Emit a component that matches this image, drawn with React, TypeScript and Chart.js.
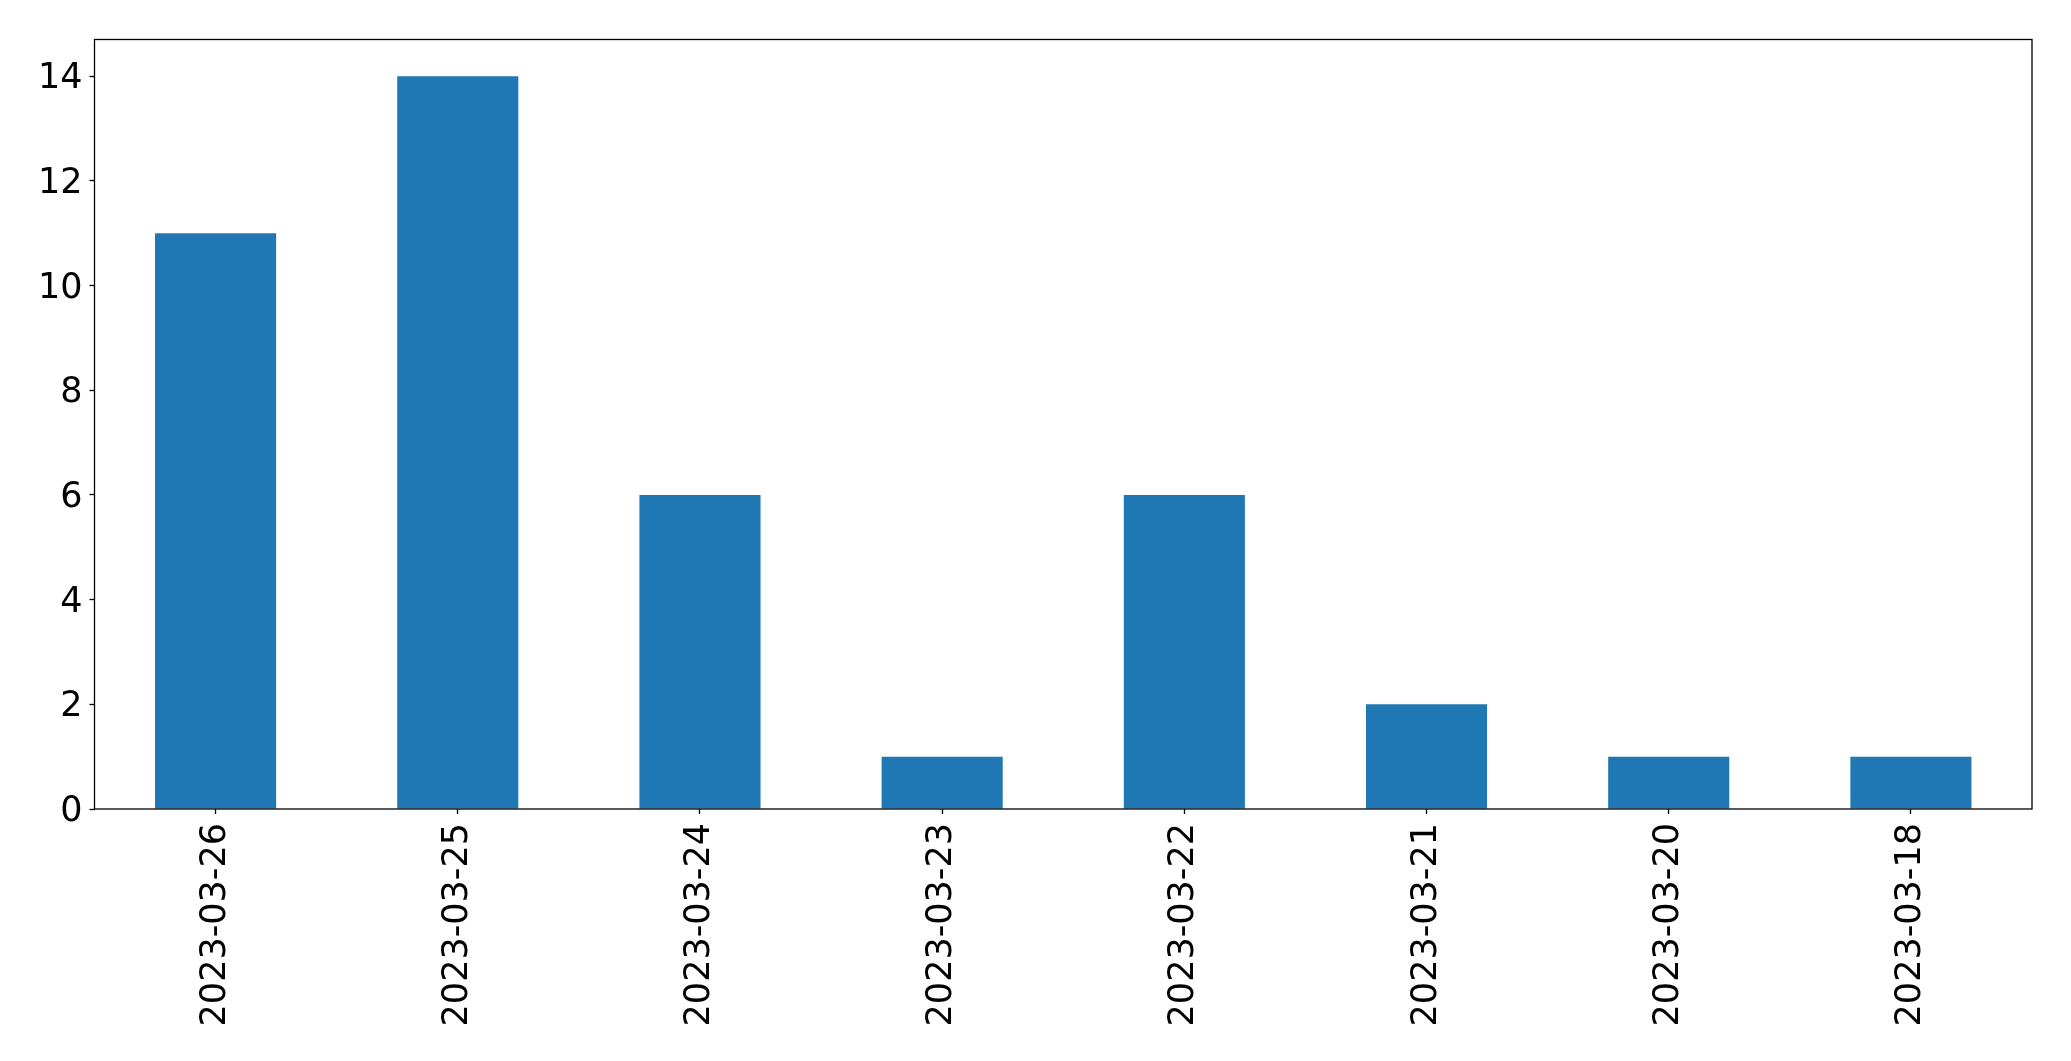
import React, { useEffect, useRef } from "react";
import { Chart, registerables } from "chart.js";

Chart.register(...registerables);

const categories = ["2023-03-26", "2023-03-25", "2023-03-24", "2023-03-23", "2023-03-22", "2023-03-21", "2023-03-20", "2023-03-18"];
const counts = [11, 14, 6, 1, 6, 2, 1, 1];
const yTicks = [0, 2, 4, 6, 8, 10, 12, 14];
const yMax = 14.7;

const frame = {
  id: "frame",
  afterDraw(chart: any) {
    const { ctx, chartArea } = chart;
    ctx.save();
    ctx.strokeStyle = "#000";
    ctx.lineWidth = 1.3;
    ctx.strokeRect(chartArea.left, chartArea.top, chartArea.right - chartArea.left, chartArea.bottom - chartArea.top);
    ctx.restore();
  },
};

export default function App() {
  const ref = useRef<HTMLCanvasElement>(null);
  useEffect(() => {
    const chart = new Chart(ref.current!, {
      type: "bar",
      data: {
        labels: categories,
        datasets: [{ data: counts, backgroundColor: "#1f77b4", barPercentage: 0.5, categoryPercentage: 1 }],
      },
      plugins: [frame],
      options: {
        animation: false,
        responsive: false,
        maintainAspectRatio: false,
        layout: { padding: { top: 39.5, right: 39, left: 0, bottom: 0 } },
        plugins: { legend: { display: false }, tooltip: { enabled: false } },
        scales: {
          x: {
            offset: true,
            grid: { offset: false, drawOnChartArea: false, tickLength: 5, color: "#000", tickWidth: 1.3 },
            border: { display: false },
            ticks: {
              minRotation: 90,
              maxRotation: 90,
              autoSkip: false,
              padding: 9,
              color: "#000",
              font: { family: "DejaVu Sans", size: 35 },
            },
            afterFit(scale: any) {
              scale.height = 252;
            },
          },
          y: {
            min: 0,
            max: yMax,
            grid: { drawOnChartArea: false, tickLength: 5, color: "#000", tickWidth: 1.3 },
            border: { display: false },
            ticks: {
              padding: 7,
              labelOffset: 3,
              color: "#000",
              font: { family: "DejaVu Sans", size: 35 },
            },
            afterBuildTicks(scale: any) {
              scale.ticks = yTicks.map((v) => ({ value: v }));
            },
            afterFit(scale: any) {
              scale.width = 94.5;
            },
          },
        },
      },
    });
    return () => chart.destroy();
  }, []);
  return (
    <div style={{ position: "fixed", left: 0, top: 0, width: 2071, height: 1061, background: "#fff" }}>
      <canvas ref={ref} width={2071} height={1061} style={{ width: 2071, height: 1061 }} />
    </div>
  );
}
